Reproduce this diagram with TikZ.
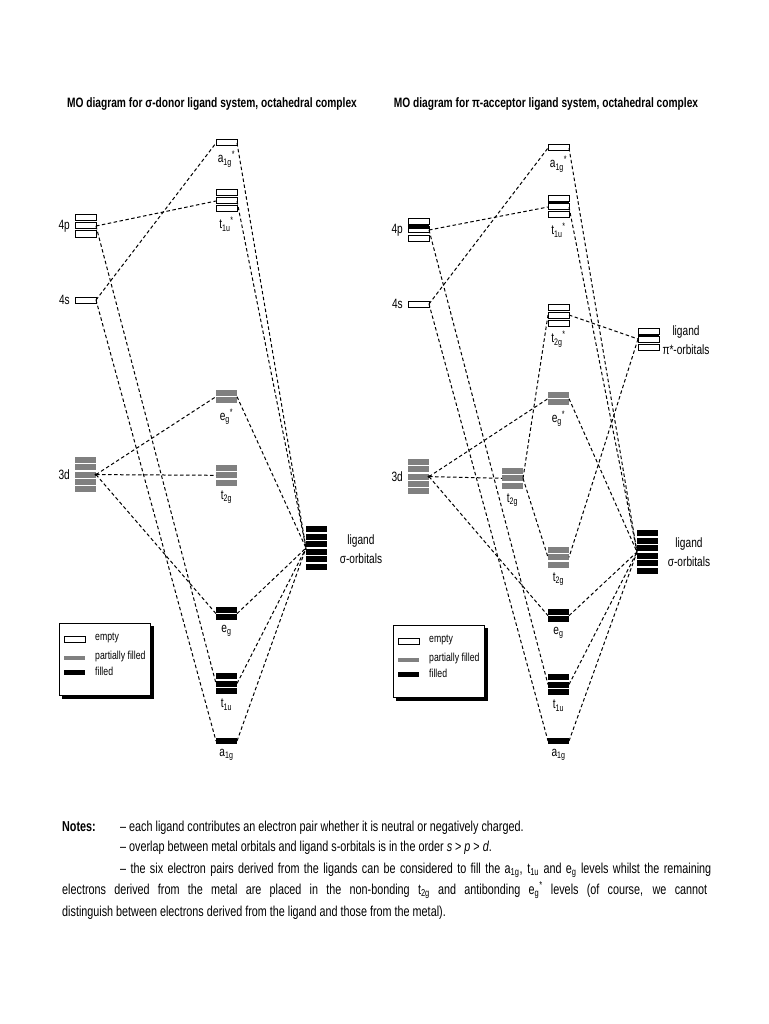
\documentclass[tikz,border=0pt]{standalone}
\usepackage{fontspec}
\setmainfont{Liberation Sans}[FakeStretch=0.75]
\usetikzlibrary{positioning,calc}
\newcommand\mylevels[6]{%
  \pgfmathsetmacro\levh{(#4-1)*#6+6}%
  \node[lev, minimum height=\levh pt, anchor=north west] (#1) at (#2,#3) {};%
  \foreach \i in {1,...,#4}{\path[#5] (#2,{#3+(\i-1)*#6}) rectangle ++(21,6);}%
}
\tikzset{
  emptybar/.style={draw=black, line width=1pt, fill=white},
  partbar/.style={fill=gray},
  fullbar/.style={fill=black},
  lev/.style={inner sep=0pt, outer sep=0pt, minimum width=21pt},
  conn/.style={draw, line width=1pt, dash pattern=on 3.5pt off 2.5pt},
  lab/.style={font=\fontsize{13.5}{15}\selectfont, inner sep=1pt},
  side/.style={font=\fontsize{13.5}{19}\selectfont, align=center, inner sep=0pt},
  ttl/.style={font=\bfseries\fontsize{13.6}{15}\selectfont, inner sep=0pt},
  legbox/.style={draw=black, fill=white, line width=0.8pt, minimum width=91pt, minimum height=72pt, inner sep=0pt, anchor=north west},
  legtxt/.style={font=\fontsize{11.6}{13}\selectfont, anchor=west, inner sep=0pt},
  notes/.style={font=\fontsize{14.4}{16}\selectfont, anchor=base west, inner sep=0pt},
}
\begin{document}
\begin{tikzpicture}[x=1pt,y=-1pt]
\useasboundingbox[fill=white] (0,0) rectangle (768,1024);

% titles
\node[ttl] (Ltitle) at (212,104) {MO diagram for σ-donor ligand system, octahedral complex};
\node[ttl] (Rtitle) at (546,104) {MO diagram for π-acceptor ligand system, octahedral complex};

% ---------- left diagram ----------
\mylevels{L4p}{75}{215}{3}{emptybar}{8}
\mylevels{L4s}{75}{297}{1}{emptybar}{8}
\mylevels{L3d}{75}{457}{5}{partbar}{7.3}
\mylevels{La1gs}{216}{140}{1}{emptybar}{8}
\mylevels{Lt1us}{216}{190}{3}{emptybar}{8}
\mylevels{Legs}{216}{390}{2}{partbar}{7.3}
\mylevels{Lt2g}{216}{465}{3}{partbar}{7.3}
\mylevels{Leg}{216}{607}{2}{fullbar}{7.3}
\mylevels{Lt1u}{216}{673}{3}{fullbar}{7.5}
\mylevels{La1g}{216}{738}{1}{fullbar}{7.5}
\mylevels{Lsig}{306}{526}{6}{fullbar}{7.6}

\node[lab, left=4pt of L4p] (L4p-t) {4p};
\node[lab, left=4pt of L4s] (L4s-t) {4s};
\node[lab, left=4pt of L3d] (L3d-t) {3d};
\node[lab, below=4pt of La1gs] (La1gs-t) {a\textsubscript{1g}\textsuperscript{*}};
\node[lab, below=4pt of Lt1us] (Lt1us-t) {t\textsubscript{1u}\textsuperscript{*}};
\node[lab, below=4pt of Legs] (Legs-t) {e\textsubscript{g}\textsuperscript{*}};
\node[lab, below=4pt of Lt2g] (Lt2g-t) {t\textsubscript{2g}};
\node[lab, below=4pt of Leg] (Leg-t) {e\textsubscript{g}};
\node[lab, below=4pt of Lt1u] (Lt1u-t) {t\textsubscript{1u}};
\node[lab, below=4pt of La1g] (La1g-t) {a\textsubscript{1g}};
\node[side] (Lsig-t) at (361,549) {ligand\\σ-orbitals};

\draw[conn] (L4p.east) -- (Lt1us.west);
\draw[conn] (L4p.east) -- (Lt1u.west);
\draw[conn] (L4s.east) -- (La1gs.west);
\draw[conn] (L4s.east) -- (La1g.west);
\draw[conn] (L3d.east) -- (Legs.west);
\draw[conn] (L3d.east) -- (Lt2g.west);
\draw[conn] (L3d.east) -- (Leg.west);
\foreach \m in {La1gs,Lt1us,Legs,Leg,Lt1u,La1g}{\draw[conn] (\m.east) -- (Lsig.west);}
\fill (L3d.east) circle (1.6);

% legend left
\fill (62,626) rectangle (154,699);
\node[legbox] (Lleg) at (59,623) {};
\path[emptybar] (64,636) rectangle ++(21,6);
\path[partbar] (64,656) rectangle ++(21,4);
\path[fullbar] (64,669.5) rectangle ++(21,5);
\node[legtxt] (Lleg-e) at (95,638) {empty};
\node[legtxt] (Lleg-p) at (95,656) {partially filled};
\node[legtxt] (Lleg-f) at (95,671) {filled};

% ---------- right diagram ----------
\mylevels{R4p}{408}{219}{3}{emptybar}{8}
\fill (408,224) rectangle (429,229.5);
\mylevels{R4s}{408}{301}{1}{emptybar}{8}
\mylevels{R3d}{408}{459}{5}{partbar}{7.3}
\mylevels{Ra1gs}{548}{145}{1}{emptybar}{8}
\mylevels{Rt1us}{548}{196}{3}{emptybar}{8}
\fill (548,202) rectangle (569,204.5);
\mylevels{Rt2gs}{548}{304}{3}{emptybar}{8}
\mylevels{Rpi}{638}{328}{3}{emptybar}{8}
\fill (638,334) rectangle (659,336.5);
\mylevels{Regs}{548}{392}{2}{partbar}{7.3}
\mylevels{Rt2g}{502}{468}{3}{partbar}{7.3}
\mylevels{Rt2gb}{548}{547}{3}{partbar}{7.3}
\mylevels{Reg}{548}{609}{2}{fullbar}{7.3}
\mylevels{Rt1u}{548}{674}{3}{fullbar}{7.5}
\mylevels{Ra1g}{548}{738}{1}{fullbar}{7.5}
\mylevels{Rsig}{637}{530}{6}{fullbar}{7.6}

\node[lab, left=4pt of R4p] (R4p-t) {4p};
\node[lab, left=4pt of R4s] (R4s-t) {4s};
\node[lab, left=4pt of R3d] (R3d-t) {3d};
\node[lab, below=4pt of Ra1gs] (Ra1gs-t) {a\textsubscript{1g}\textsuperscript{*}};
\node[lab, below=4pt of Rt1us] (Rt1us-t) {t\textsubscript{1u}\textsuperscript{*}};
\node[lab, below=4pt of Rt2gs] (Rt2gs-t) {t\textsubscript{2g}\textsuperscript{*}};
\node[lab, below=4pt of Regs] (Regs-t) {e\textsubscript{g}\textsuperscript{*}};
\node[lab, below=4pt of Rt2g] (Rt2g-t) {t\textsubscript{2g}};
\node[lab, below=4pt of Rt2gb] (Rt2gb-t) {t\textsubscript{2g}};
\node[lab, below=4pt of Reg] (Reg-t) {e\textsubscript{g}};
\node[lab, below=4pt of Rt1u] (Rt1u-t) {t\textsubscript{1u}};
\node[lab, below=4pt of Ra1g] (Ra1g-t) {a\textsubscript{1g}};
\node[side] (Rsig-t) at (689,552) {ligand\\σ-orbitals};
\node[side] (Rpi-t) at (686,340) {ligand\\π*-orbitals};

\draw[conn] (R4p.east) -- (Rt1us.west);
\draw[conn] (R4p.east) -- (Rt1u.west);
\draw[conn] (R4s.east) -- (Ra1gs.west);
\draw[conn] (R4s.east) -- (Ra1g.west);
\draw[conn] (R3d.east) -- (Regs.west);
\draw[conn] (R3d.east) -- (Rt2g.west);
\draw[conn] (R3d.east) -- (Reg.west);
\draw[conn] (Rt2g.east) -- (Rt2gs.west);
\draw[conn] (Rt2g.east) -- (Rt2gb.west);
\draw[conn] (Rt2gs.east) -- (Rpi.west);
\draw[conn] (Rpi.west) -- (Rt2gb.east);
\foreach \m in {Ra1gs,Rt1us,Regs,Reg,Rt1u,Ra1g}{\draw[conn] (\m.east) -- (Rsig.west);}
\fill (R3d.east) circle (1.6);

% legend right
\fill (396,628) rectangle (488,701);
\node[legbox] (Rleg) at (393,625) {};
\path[emptybar] (398,638) rectangle ++(21,6);
\path[partbar] (398,658) rectangle ++(21,4);
\path[fullbar] (398,671.5) rectangle ++(21,5);
\node[legtxt] (Rleg-e) at (429,640) {empty};
\node[legtxt] (Rleg-p) at (429,658) {partially filled};
\node[legtxt] (Rleg-f) at (429,673) {filled};

% notes
\node[notes] (n0) at (62,831) {\bfseries Notes:};
\node[notes] (n1) at (120,831) {– each ligand contributes an electron pair whether it is neutral or negatively charged.};
\node[notes] (n2) at (120,851) {– overlap between metal orbitals and ligand s-orbitals is in the order \textit{s} > \textit{p} > \textit{d}.};
\node[notes] (n3) at (120,873) {\hbox to 591pt{– the six electron pairs derived from the ligands can be considered to fill the a\textsubscript{1g}, t\textsubscript{1u} and e\textsubscript{g} levels whilst the remaining}};
\node[notes] (n4) at (62,894) {\hbox to 645pt{electrons derived from the metal are placed in the non-bonding t\textsubscript{2g} and antibonding e\textsubscript{g}\textsuperscript{*} levels (of course, we cannot}};
\node[notes] (n5) at (62,916) {distinguish between electrons derived from the ligand and those from the metal).};
\end{tikzpicture}
\end{document}
